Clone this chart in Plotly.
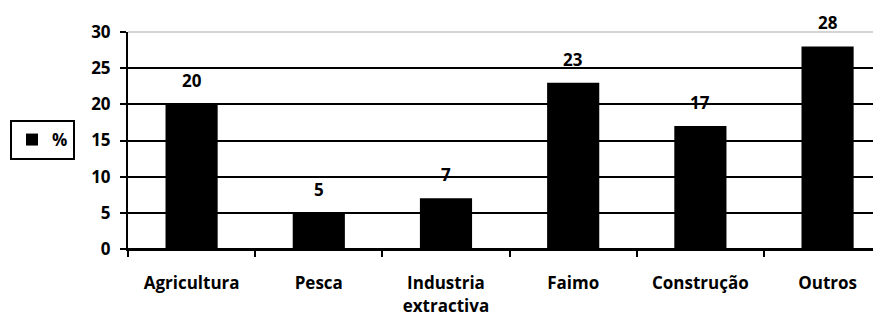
import plotly.graph_objects as go

categories = ["Agricultura", "Pesca", "Industria<br>extractiva", "Faimo", "Construção", "Outros"]
values = [20, 5, 7, 23, 17, 28]
y_ticks = [0, 5, 10, 15, 20, 25, 30]
series_name = "%"

FONT = "Open Sans"
FS = 17

# page body has an 8px margin; size the figure so the plot lands where the reference has it
W, H = 873, 309

fig = go.Figure()
fig.add_trace(go.Bar(
    x=categories, y=values, name=series_name,
    marker=dict(color="black", line=dict(width=0)),
    width=0.41,
    showlegend=True,
))

for c, v in zip(categories, values):
    fig.add_annotation(x=c, y=v, text=str(v), showarrow=False,
                       yanchor="bottom", yshift=10,
                       font=dict(family=FONT, size=FS, color="black", weight="bold"))

fig.update_layout(
    width=W, height=H,
    margin=dict(l=120, r=0, t=24, b=68),
    paper_bgcolor="white", plot_bgcolor="white",
    font=dict(family=FONT, size=FS, color="black", weight="bold"),
    showlegend=True,
    legend=dict(xref="container", yref="container",
                x=2 / W, xanchor="left", y=1 - 132 / H, yanchor="middle",
                bordercolor="black", borderwidth=2, bgcolor="white",
                font=dict(family=FONT, size=FS, color="black", weight="bold"),
                itemwidth=30),
    xaxis=dict(
        type="category", range=[-0.5, 5.42], automargin=False,
        tickson="boundaries", ticks="outside", ticklen=6, tickcolor="black", tickwidth=2,
        showline=True, linecolor="black", linewidth=2,
        showgrid=False, ticklabelstandoff=18,
        tickfont=dict(family=FONT, size=FS, color="black", weight="bold"),
    ),
    yaxis=dict(
        range=[0, 30], tickvals=y_ticks, ticks="outside", ticklen=6, automargin=False,
        tickcolor="black", tickwidth=2, ticklabelstandoff=6,
        showline=True, linecolor="black", linewidth=2,
        showgrid=True, gridcolor="black", gridwidth=2,
        zeroline=True, zerolinecolor="black", zerolinewidth=2,
        tickfont=dict(family=FONT, size=FS, color="black", weight="bold"),
    ),
    shapes=[dict(type="line", xref="paper", yref="y domain", x0=0, x1=1, y0=1, y1=1,
                 line=dict(color="#d4d4d4", width=2), layer="above")],
)

fig.write_html("out.html")
